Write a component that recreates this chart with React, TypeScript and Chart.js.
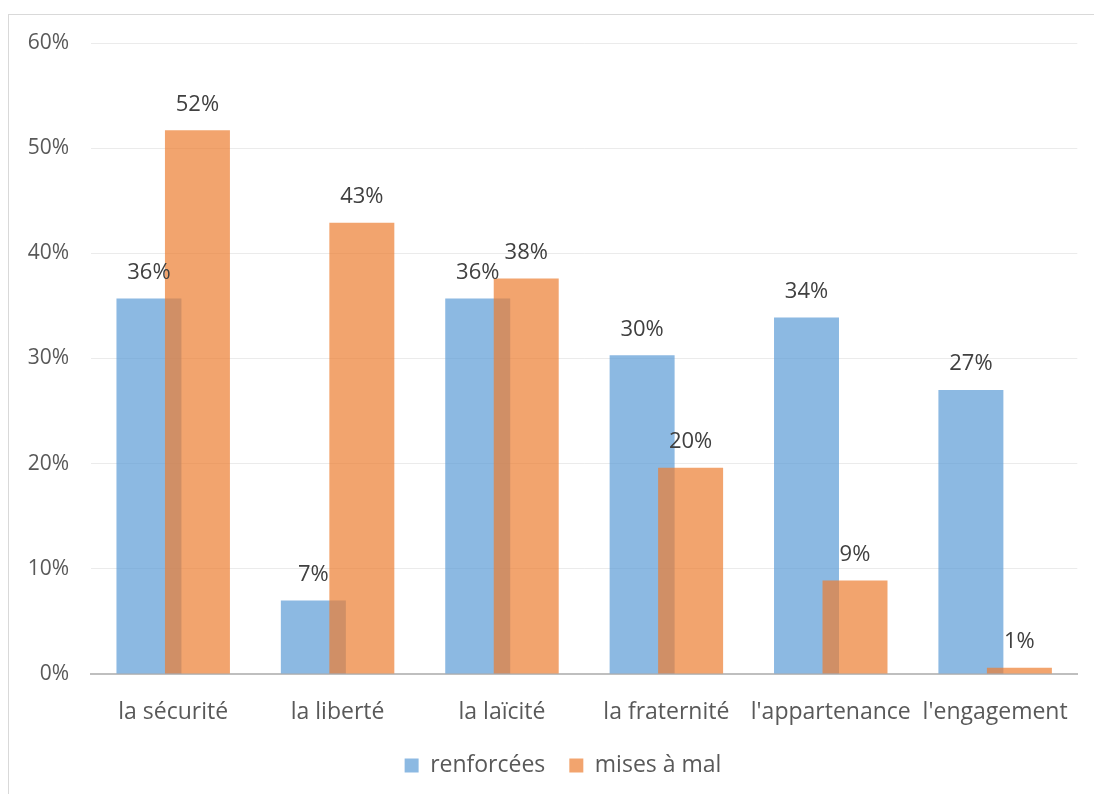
import React, { useEffect, useRef } from "react";
import { Chart, registerables } from "chart.js";

Chart.register(...registerables);

const categories = ["la sécurité", "la liberté", "la laïcité", "la fraternité", "l'appartenance", "l'engagement"];
const renforcees = [35.7, 7.0, 35.7, 30.3, 33.9, 27.0];
const misesAMal = [51.7, 42.9, 37.6, 19.6, 8.9, 0.6];
const seriesNames = ["renforcées", "mises à mal"];
const yTicks = [0, 10, 20, 30, 40, 50, 60];

const FONT = "'Open Sans', sans-serif";

let manualDraw = false;

const orderPlugin = {
  id: "drawOrder",
  afterLayout(chart: any) {
    const lg = chart.legend;
    if (lg) {
      lg.left += 24;
      lg.right += 24;
    }
  },
  beforeDatasetDraw(chart: any, args: any) {
    if (args.index === 1 && !manualDraw) return false;
  },
  afterDatasetsDraw(chart: any) {
    manualDraw = true;
    const meta = chart.getDatasetMeta(1);
    meta.controller.draw();
    manualDraw = false;
  },
};

const labelPlugin = {
  id: "barLabels",
  afterDatasetsDraw(chart: any) {
    const ctx = chart.ctx;
    ctx.save();
    ctx.font = `22px ${FONT}`;
    ctx.fillStyle = "#404040";
    ctx.textAlign = "center";
    ctx.textBaseline = "bottom";
    chart.data.datasets.forEach((ds: any, di: number) => {
      const meta = chart.getDatasetMeta(di);
      meta.data.forEach((bar: any, i: number) => {
        const v = ds.data[i];
        ctx.fillText(Math.round(v) + "%", bar.x, bar.y - 15);
      });
    });
    ctx.restore();
  },
};

export default function App() {
  const ref = useRef<HTMLCanvasElement>(null);
  useEffect(() => {
    const chart = new Chart(ref.current!, {
      type: "bar",
      data: {
        labels: categories,
        datasets: [
          {
            label: seriesNames[0],
            data: renforcees,
            backgroundColor: "rgba(91,155,213,0.7)",
          },
          {
            label: seriesNames[1],
            data: misesAMal,
            backgroundColor: "rgba(237,125,49,0.7)",
          },
        ],
      },
      options: {
        animation: false,
        responsive: false,
        maintainAspectRatio: false,
        datasets: { bar: { categoryPercentage: 0.59, barPercentage: 1.34 } },
        layout: { padding: { left: 0, right: 16, top: 43, bottom: 7 } },
        plugins: {
          legend: {
            position: "bottom",
            labels: {
              boxWidth: 14,
              boxHeight: 14,
              padding: 24,
              color: "#595959",
              font: { family: FONT, size: 23 },
            },
          },
          tooltip: { enabled: false },
        },
        scales: {
          x: {
            grid: { display: false, drawTicks: false },
            border: { color: "#BFBFBF", width: 2 },
            ticks: { color: "#595959", font: { family: FONT, size: 23 }, padding: 25, maxRotation: 0, autoSkip: false },
            afterFit: (s: any) => { s.height = 56; },
          },
          y: {
            min: 0,
            max: 60,
            afterBuildTicks: (s: any) => { s.ticks = yTicks.map((v) => ({ value: v })); },
            grid: { color: "#EBEBEB", lineWidth: 1, drawTicks: false },
            border: { display: false },
            ticks: {
              color: "#595959",
              font: { family: FONT, size: 21 },
              padding: 22,
              callback: (v: any) => v + "%",
            },
            afterFit: (s: any) => { s.width = 91; },
          },
        },
      },
      plugins: [orderPlugin, labelPlugin],
    });
    return () => chart.destroy();
  }, []);
  return (
    <>
      <div style={{ position: "absolute", left: 8, top: 14, width: 1100, height: 800, border: "1px solid #D9D9D9", boxSizing: "border-box" }} />
      <canvas ref={ref} width={1094} height={794} style={{ position: "absolute", left: 0, top: 0 }} />
    </>
  );
}
